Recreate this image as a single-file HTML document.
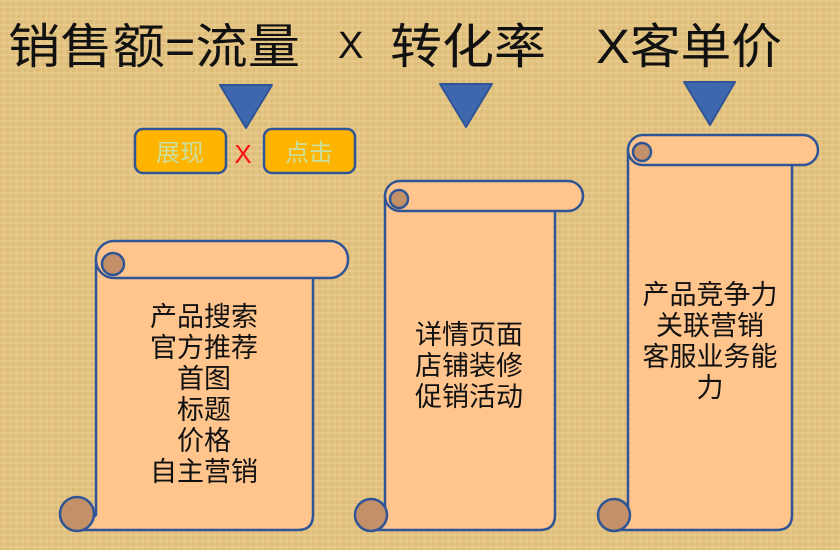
<!DOCTYPE html>
<html><head><meta charset="utf-8"><style>
body{margin:0}
svg{display:block}
text{font-family:"Liberation Sans","Noto Sans CJK SC",sans-serif}
</style></head><body>
<svg width="840" height="550" xmlns="http://www.w3.org/2000/svg">
<defs>
<pattern id="p" width="6" height="6" patternUnits="userSpaceOnUse">
<rect width="6" height="6" fill="#e3c483"/>
<rect width="3" height="6" fill="#dbb974" opacity=".6"/>
<rect width="6" height="2" fill="#edd296" opacity=".5"/>
</pattern>
</defs>
<rect width="840" height="550" fill="url(#p)"/>
<g font-size="48" fill="#111">
<text x="8" y="63" textLength="292" lengthAdjust="spacingAndGlyphs">销售额=流量</text>
<text x="338" y="58" font-size="38">X</text>
<text x="390" y="63" textLength="156" lengthAdjust="spacingAndGlyphs">转化率</text>
<text x="596" y="63" textLength="186" lengthAdjust="spacingAndGlyphs">X客单价</text>
</g>
<g fill="#3f67ad" stroke="#2f5597" stroke-width="2" stroke-linejoin="round">
<polygon points="220,85 272,85 246,128"/>
<polygon points="440,84 492,84 466,127"/>
<polygon points="684,82 735,82 710,125"/>
</g>
<g stroke="#2f5597" stroke-width="2.5">
<rect x="135" y="129" width="91" height="44" rx="8" fill="#ffb400"/>
<rect x="264" y="129" width="91" height="44" rx="8" fill="#ffb400"/>
</g>
<g font-size="24" fill="#c9e0a0" text-anchor="middle">
<text x="180" y="161">展现</text>
<text x="309" y="161">点击</text>
</g>
<text x="243" y="163" font-size="26" fill="#ff1010" text-anchor="middle">X</text>

<g stroke="#2f5597" stroke-width="2.5" fill="#ffc58c">
<path d="M96,260 L313,260 L313,515 Q313,530 298,530 L80,530 L96,515 Z"/>
<rect x="96" y="241" width="252" height="37" rx="18"/>
<circle cx="77" cy="514" r="17" fill="#c39067"/>
<circle cx="113" cy="264" r="11" fill="#c39067"/>
<path d="M385,196 L555,196 L555,515 Q555,530 540,530 L372,530 L385,515 Z"/>
<rect x="385" y="181" width="198" height="30" rx="15"/>
<circle cx="371" cy="515" r="16" fill="#c39067"/>
<circle cx="399" cy="199" r="9" fill="#c39067"/>
<path d="M628,150 L792,150 L792,515 Q792,530 777,530 L615,530 L628,515 Z"/>
<rect x="628" y="135" width="190" height="30" rx="15"/>
<circle cx="614" cy="515" r="16" fill="#c39067"/>
<circle cx="642" cy="152" r="9" fill="#c39067"/>
</g>

<g font-size="27" fill="#111" text-anchor="middle">
<text x="204" y="326">产品搜索</text>
<text x="204" y="357">官方推荐</text>
<text x="204" y="388">首图</text>
<text x="204" y="419">标题</text>
<text x="204" y="450">价格</text>
<text x="204" y="481">自主营销</text>
<text x="469" y="344">详情页面</text>
<text x="469" y="375">店铺装修</text>
<text x="469" y="406">促销活动</text>
<text x="710" y="304">产品竞争力</text>
<text x="710" y="335">关联营销</text>
<text x="710" y="366">客服业务能</text>
<text x="710" y="397">力</text>
</g>
</svg>
</body></html>
